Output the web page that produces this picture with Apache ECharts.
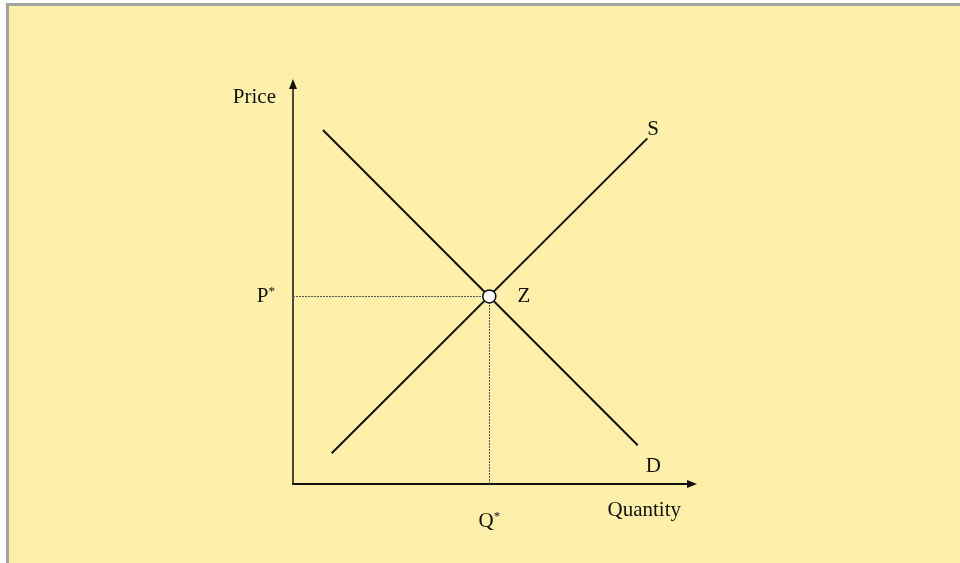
<!DOCTYPE html>
<html>
<head>
<meta charset="UTF-8">
<title>Supply and demand</title>
<script src="https://cdn.jsdelivr.net/npm/echarts@6.0.0/dist/echarts.min.js"></script>
<style>
    body { margin: 0; background: #ffffff; }
    #panel {
        position: absolute; left: 6px; top: 3px; right: 0; bottom: 0;
        background: #fef0aa;
        border-top: 3px solid #a3a3a3;
        border-left: 3px solid #a3a3a3;
    }
    #chart { position: absolute; left: 0; top: 0; width: 960px; height: 563px; }
</style>
</head>
<body>
<div id="panel"></div>
<div id="chart"></div>
<script>
    // curves in axis units (0..100 on both axes)
    var demand = [[7.5, 88.5], [86.4, 9.7]];
    var supply = [[9.7, 7.7], [88.8, 86.4]];
    var equilibrium = [49.2, 46.9];
    var curveNames = ['D', 'S'];
    var axisNames = ['Quantity', 'Price'];
    var eqNames = ['Q', 'P', 'Z'];

    var font = 'Liberation Serif';
    var fs = 21;
    var chart = echarts.init(document.getElementById('chart'));

    var star = {
        s: { fontSize: 13, fontFamily: font, color: '#111', padding: [0, 0, 10, 0] }
    };

    chart.setOption({
        backgroundColor: 'transparent',
        animation: false,
        grid: { left: 293, right: 268, top: 84, bottom: 79 },
        xAxis: {
            type: 'value', min: 0, max: 100,
            name: axisNames[0], nameLocation: 'end',
            nameGap: 0,
            nameTextStyle: { fontFamily: font, fontSize: fs, color: '#111',
                align: 'right', verticalAlign: 'top', padding: [16, 11, 0, 0] },
            axisLine: { lineStyle: { color: '#111', width: 2 },
                symbol: ['none', 'triangle'], symbolSize: [8, 10] },
            axisTick: { show: false }, axisLabel: { show: false }, splitLine: { show: false }
        },
        yAxis: {
            type: 'value', min: 0, max: 100,
            name: axisNames[1], nameLocation: 'end',
            nameGap: 0,
            nameTextStyle: { fontFamily: font, fontSize: fs, color: '#111',
                align: 'right', verticalAlign: 'top', padding: [3, 17, 0, 0] },
            axisLine: { lineStyle: { color: '#111', width: 1.5 },
                symbol: ['none', 'triangle'], symbolSize: [8, 10] },
            axisTick: { show: false }, axisLabel: { show: false }, splitLine: { show: false }
        },
        series: [
            {
                name: curveNames[0], type: 'line', data: demand,
                symbol: 'none', lineStyle: { color: '#111', width: 2 },
                endLabel: { show: true, formatter: curveNames[0], fontFamily: font,
                    fontSize: fs, color: '#111', offset: [0, 21] }
            },
            {
                name: curveNames[1], type: 'line', data: supply,
                symbol: 'none', lineStyle: { color: '#111', width: 2 },
                endLabel: { show: true, formatter: curveNames[1], fontFamily: font,
                    fontSize: fs, color: '#111', offset: [-8, -9] },
                markLine: {
                    silent: true, symbol: 'none',
                    lineStyle: { color: '#555', width: 1, type: [2, 1] },
                    data: [
                        [{ coord: [0, equilibrium[1]],
                           label: { show: true, position: 'start', distance: 18,
                               formatter: eqNames[1] + '{s|*}', fontFamily: font,
                               fontSize: fs, color: '#111', rich: star } },
                         { coord: equilibrium }],
                        [{ coord: [equilibrium[0], 0],
                           label: { show: true, position: 'start', distance: 26,
                               formatter: eqNames[0] + '{s|*}', fontFamily: font,
                               fontSize: fs, color: '#111', rich: star } },
                         { coord: equilibrium }]
                    ]
                }
            },
            {
                name: eqNames[2], type: 'scatter', data: [equilibrium],
                symbol: 'circle', symbolSize: 13, z: 5,
                itemStyle: { color: '#ffffff', opacity: 1, borderColor: '#111', borderWidth: 1.5 },
                label: { show: true, formatter: eqNames[2], position: 'right', distance: 21,
                    fontFamily: font, fontSize: fs, color: '#111' }
            }
        ]
    });
</script>
</body>
</html>
